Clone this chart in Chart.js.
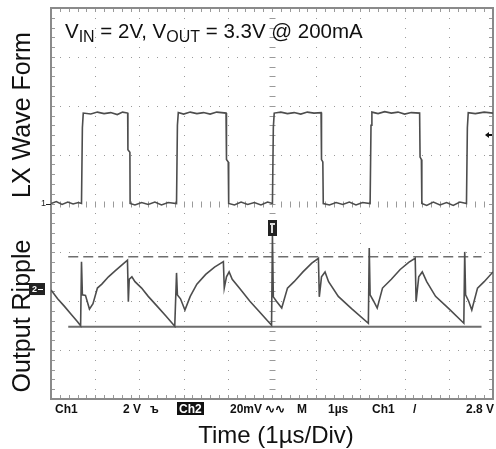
<!DOCTYPE html>
<html>
<head>
<meta charset="utf-8">
<script src="https://cdn.jsdelivr.net/npm/chart.js@4/dist/chart.umd.min.js"></script>
<style>
  html, body { margin: 0; padding: 0; background: #fff; }
  #wrap { width: 496px; height: 449px; }
</style>
</head>
<body>
<div id="wrap"><canvas id="scope" width="496" height="449"></canvas></div>
<script>
// tempo em µs (1 divisão = 1 µs), tensão em divisões da tela (0 = base, 8 = topo)
const lxTempo = [0, 0.12, 0.25, 0.38, 0.5, 0.62, 0.69, 0.71, 0.73, 0.9, 1.05, 1.2, 1.35, 1.5, 1.62, 1.735, 1.74, 1.785, 1.79,
  1.9, 2.05, 2.2, 2.35, 2.5, 2.65, 2.84, 2.86, 2.88, 3.0, 3.15, 3.3, 3.45, 3.6, 3.75, 3.96, 3.97, 4.01, 4.02,
  4.15, 4.3, 4.45, 4.6, 4.75, 4.9, 5.01, 5.03, 5.05, 5.2, 5.35, 5.5, 5.65, 5.8, 5.95, 6.11, 6.12, 6.15, 6.16,
  6.3, 6.45, 6.6, 6.75, 6.9, 7.05, 7.22, 7.24, 7.26, 7.4, 7.55, 7.7, 7.85, 8.0, 8.15, 8.34, 8.35, 8.38, 8.39,
  8.5, 8.65, 8.8, 8.95, 9.1, 9.25, 9.4, 9.42, 9.44, 9.6, 9.8, 10];
const lxValor = [4.0, 4.04, 3.98, 4.03, 3.99, 4.02, 4.0, 5.55, 5.85, 5.83, 5.87, 5.84, 5.86, 5.82, 5.87, 5.85, 5.1, 5.05, 4.0,
  3.97, 4.02, 3.98, 4.03, 3.97, 4.02, 4.0, 5.6, 5.86, 5.83, 5.87, 5.84, 5.86, 5.83, 5.87, 5.85, 4.9, 4.85, 4.0,
  3.97, 4.03, 3.98, 4.02, 3.97, 4.03, 4.0, 5.55, 5.85, 5.87, 5.84, 5.86, 5.83, 5.87, 5.85, 5.86, 4.9, 4.85, 4.0,
  3.97, 4.02, 3.98, 4.03, 3.97, 4.02, 4.0, 5.6, 5.87, 5.84, 5.88, 5.85, 5.87, 5.83, 5.86, 5.85, 4.95, 4.9, 4.0,
  3.96, 4.03, 3.97, 4.02, 3.96, 4.03, 4.0, 5.55, 5.86, 5.84, 5.87, 5.85];

const rippleTempo = [0, 0.15, 0.3, 0.45, 0.6, 0.67, 0.69, 0.71, 0.78, 0.87, 0.95, 1.05, 1.15, 1.3, 1.45, 1.6, 1.73, 1.75, 1.77, 1.83,
  1.9, 2.05, 2.2, 2.4, 2.6, 2.8, 2.84, 2.86, 2.93, 3.03, 3.15, 3.3, 3.5, 3.7, 3.9, 3.92, 3.97, 4.03, 4.1,
  4.28, 4.5, 4.7, 4.99, 5.01, 5.03, 5.1, 5.22, 5.35, 5.5, 5.7, 5.9, 6.05, 6.07, 6.12, 6.2, 6.28,
  6.5, 6.8, 7.18, 7.2, 7.22, 7.3, 7.38, 7.5, 7.7, 7.9, 8.1, 8.24, 8.26, 8.32, 8.4, 8.5,
  8.7, 9.0, 9.34, 9.36, 9.38, 9.45, 9.52, 9.65, 9.8, 10];
const rippleValor = [2.23, 2.05, 1.9, 1.74, 1.58, 1.5, 2.81, 2.13, 2.12, 1.84, 1.95, 2.27, 2.35, 2.5, 2.62, 2.74, 2.84, 1.99, 2.45, 2.5,
  2.4, 2.27, 2.1, 1.9, 1.7, 1.49, 2.58, 2.13, 2.05, 1.82, 2.1, 2.35, 2.55, 2.7, 2.81, 2.27, 2.5, 2.6, 2.45,
  2.25, 2.0, 1.8, 1.51, 3.35, 2.09, 2.0, 1.86, 2.27, 2.4, 2.6, 2.78, 2.88, 2.09, 2.5, 2.6, 2.4,
  2.1, 1.85, 1.55, 3.09, 2.13, 2.0, 1.86, 2.27, 2.45, 2.65, 2.8, 2.88, 1.99, 2.5, 2.6, 2.4,
  2.1, 1.85, 1.55, 3.01, 2.13, 2.0, 1.82, 2.27, 2.4, 2.6];

// cursores (linha cheia = mínimo, tracejada = máximo)
const cursorInicio = 0.39;
const cursorFim = 9.74;
const cursorBaixo = 1.48;
const cursorAlto = 2.91;

const divisoesX = 10;
const divisoesY = 8;

const rotuloTempo = "Time (1µs/Div)";
const rotuloLX = "LX Wave Form";
const rotuloRipple = "Output Ripple";

function pares(xs, ys) {
  return xs.map((x, i) => ({ x: x, y: ys[i] }));
}

const COR_GRADE = "#9a9a9a";
const COR_TRACO = "#4d4d4d";

// grade pontilhada estilo osciloscópio
const gradePlugin = {
  id: "grade",
  beforeDatasetsDraw(chart) {
    const ctx = chart.ctx;
    const sx = chart.scales.x;
    const sy = chart.scales.y;
    const a = chart.chartArea;
    ctx.save();
    ctx.fillStyle = COR_GRADE;
    for (let i = 1; i < divisoesX; i++) {
      const px = Math.round(sx.getPixelForValue(i));
      for (let k = 0; k <= divisoesY * 5; k++) {
        const py = Math.round(sy.getPixelForValue(k / 5));
        ctx.fillRect(px, py, 1, 1);
      }
    }
    for (let j = 1; j < divisoesY; j++) {
      const py = Math.round(sy.getPixelForValue(j));
      for (let k = 0; k <= divisoesX * 5; k++) {
        const px = Math.round(sx.getPixelForValue(k / 5));
        ctx.fillRect(px, py, 1, 1);
      }
    }
    // marcas do eixo central e das bordas
    ctx.strokeStyle = COR_GRADE;
    ctx.lineWidth = 1;
    const cx = Math.round(sx.getPixelForValue(divisoesX / 2)) + 0.5;
    const cy = Math.round(sy.getPixelForValue(divisoesY / 2)) + 0.5;
    ctx.beginPath();
    for (let k = 1; k < divisoesY * 5; k++) {
      const py = Math.round(sy.getPixelForValue(k / 5)) + 0.5;
      ctx.moveTo(cx - 3, py); ctx.lineTo(cx + 3, py);
      ctx.moveTo(a.left, py); ctx.lineTo(a.left + 4, py);
      ctx.moveTo(a.right - 4, py); ctx.lineTo(a.right, py);
    }
    for (let k = 1; k < divisoesX * 5; k++) {
      const px = Math.round(sx.getPixelForValue(k / 5)) + 0.5;
      ctx.moveTo(px, cy - 3); ctx.lineTo(px, cy + 3);
      ctx.moveTo(px, a.top); ctx.lineTo(px, a.top + 4);
      ctx.moveTo(px, a.bottom - 4); ctx.lineTo(px, a.bottom);
    }
    ctx.stroke();
    ctx.strokeStyle = "#8a8a8a";
    ctx.lineWidth = 2;
    ctx.strokeRect(a.left, a.top, a.right - a.left, a.bottom - a.top);
    ctx.restore();
  },
};

function textoComSubscrito(ctx, partes, x, y, tam) {
  let cx = x;
  partes.forEach((p) => {
    if (p.sub) {
      ctx.font = `${Math.round(tam * 0.78)}px "Liberation Sans", Arial, sans-serif`;
      ctx.fillText(p.t, cx, y + 4);
    } else {
      ctx.font = `${tam}px "Liberation Sans", Arial, sans-serif`;
      ctx.fillText(p.t, cx, y);
    }
    cx += ctx.measureText(p.t).width;
  });
}

const textosPlugin = {
  id: "textos",
  afterDraw(chart) {
    const ctx = chart.ctx;
    const sx = chart.scales.x;
    const sy = chart.scales.y;
    const a = chart.chartArea;
    ctx.save();
    ctx.fillStyle = "#111";
    ctx.textBaseline = "alphabetic";
    ctx.textAlign = "left";
    textoComSubscrito(ctx, [
      { t: "V" }, { t: "IN", sub: true }, { t: " = 2V, V" }, { t: "OUT", sub: true }, { t: " = 3.3V @ 200mA" },
    ], a.left + 14, a.top + 30, 20.5);

    // rótulos verticais
    ctx.font = '25px "Liberation Sans", Arial, sans-serif';
    ctx.textAlign = "center";
    ctx.textBaseline = "middle";
    [[rotuloLX, 115], [rotuloRipple, 316]].forEach(([t, y]) => {
      ctx.save();
      ctx.translate(23, y);
      ctx.rotate(-Math.PI / 2);
      ctx.fillText(t, 0, 0);
      ctx.restore();
    });

    // título do eixo de tempo
    ctx.font = '24px "Liberation Sans", Arial, sans-serif';
    ctx.textBaseline = "alphabetic";
    ctx.fillText(rotuloTempo, sx.getPixelForValue(divisoesX / 2) + 4, 443);

    // linha de status
    ctx.font = 'bold 12px "Liberation Sans Narrow", "Liberation Sans", Arial, sans-serif';
    ctx.textAlign = "left";
    const yb = a.bottom + 14;
    [["Ch1", 55], ["2 V", 123], ["ъ", 150], ["20mV", 230], ["∿∿", 265], ["M", 297], ["1µs", 328], ["Ch1", 372], ["/", 413]]
      .forEach(([t, x]) => ctx.fillText(t, x, yb));
    ctx.textAlign = "right";
    ctx.fillText("2.8 V", 494, yb);
    ctx.fillStyle = "#111";
    ctx.fillRect(177, a.bottom + 3, 27, 13);
    ctx.fillStyle = "#fff";
    ctx.textAlign = "left";
    ctx.fillText("Ch2", 179, yb);

    // marcadores de canal e trigger
    ctx.fillStyle = "#222";
    ctx.font = '9px "Liberation Sans", Arial, sans-serif';
    const y1 = sy.getPixelForValue(4);
    ctx.textBaseline = "middle";
    ctx.fillText("1", a.left - 10, y1);
    ctx.fillRect(a.left - 5, Math.round(y1), 5, 1);

    const y2 = sy.getPixelForValue(2.25);
    ctx.fillRect(29, y2 - 6, 16, 12);
    ctx.fillStyle = "#fff";
    ctx.font = 'bold 9px "Liberation Sans", Arial, sans-serif';
    ctx.fillText("2", 32, y2);
    ctx.fillRect(38, Math.round(y2), 5, 1);

    const xt = sx.getPixelForValue(5);
    ctx.fillStyle = "#222";
    ctx.fillRect(xt - 4, 220, 9, 16);
    ctx.fillStyle = "#ddd";
    ctx.fillRect(xt - 2, 223, 5, 2);
    ctx.fillRect(xt - 1, 223, 2, 10);

    ctx.fillStyle = "#111";
    const yt = sy.getPixelForValue(5.4);
    ctx.beginPath();
    ctx.moveTo(a.right - 8, yt);
    ctx.lineTo(a.right - 4, yt - 3);
    ctx.lineTo(a.right - 4, yt + 3);
    ctx.closePath();
    ctx.fill();
    ctx.fillRect(a.right - 5, Math.round(yt) - 1, 4, 2);
    ctx.restore();
  },
};

new Chart(document.getElementById("scope").getContext("2d"), {
  type: "line",
  data: {
    datasets: [
      {
        data: pares(lxTempo, lxValor),
        borderColor: COR_TRACO,
        borderWidth: 1.6,
      },
      {
        data: pares(rippleTempo, rippleValor),
        borderColor: COR_TRACO,
        borderWidth: 1.6,
      },
      {
        data: pares([cursorInicio, cursorFim], [cursorBaixo, cursorBaixo]),
        borderColor: "#6e6e6e",
        borderWidth: 2,
      },
      {
        data: pares([cursorInicio, cursorFim], [cursorAlto, cursorAlto]),
        borderColor: "#6e6e6e",
        borderWidth: 1.6,
        borderDash: [10, 5],
      },
    ],
  },
  options: {
    responsive: false,
    animation: false,
    events: [],
    layout: { padding: { left: 51, top: 8, right: 3, bottom: 50 } },
    elements: { point: { radius: 0 }, line: { tension: 0, fill: false } },
    scales: {
      x: { type: "linear", min: 0, max: divisoesX, display: false },
      y: { type: "linear", min: 0, max: divisoesY, display: false },
    },
    plugins: { legend: { display: false }, tooltip: { enabled: false } },
  },
  plugins: [gradePlugin, textosPlugin],
});
</script>
</body>
</html>
